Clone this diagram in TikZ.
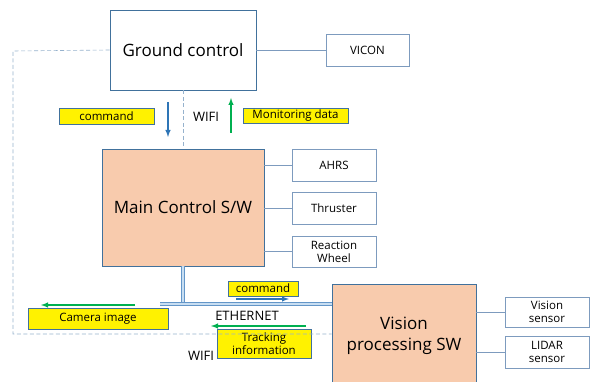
\documentclass[tikz,border=0pt]{standalone}
\usepackage{fontspec}
\setmainfont{Open Sans}
\usepackage{xcolor}
\usepackage{tikz}
\usetikzlibrary{shapes.geometric, arrows}
\definecolor{boxline}{RGB}{65,113,156}
\definecolor{thinline}{RGB}{125,155,190}
\definecolor{salmon}{RGB}{248,203,173}
\definecolor{cmdblue}{RGB}{46,117,182}
\definecolor{datagreen}{RGB}{0,176,80}
\definecolor{wifidash}{RGB}{150,178,205}
\definecolor{etherline}{RGB}{100,150,200}
\definecolor{etherfill}{RGB}{200,222,242}
\tikzstyle{station} = [rectangle, minimum width=146pt, minimum height=80pt, text centered, draw=boxline, line width=0.8pt, fill=white, font=\fontsize{17}{21}\selectfont]
\tikzstyle{software} = [rectangle, text centered, align=center, draw=boxline, line width=0.8pt, fill=salmon, font=\fontsize{17}{21}\selectfont]
\tikzstyle{device} = [rectangle, minimum width=84pt, minimum height=32pt, text centered, align=center, draw=thinline, line width=0.6pt, fill=white, font=\fontsize{11.5}{13}\selectfont]
\tikzstyle{flowtag} = [rectangle, text centered, align=center, draw=boxline, line width=0.8pt, fill=yellow, inner sep=0pt, font=\fontsize{11.5}{12.5}\selectfont]
\tikzstyle{medium} = [font=\fontsize{13}{15}\selectfont, inner sep=0pt]
\tikzstyle{sidelink} = [draw=thinline, line width=0.6pt]
\tikzstyle{wifilink} = [draw=wifidash, dash pattern=on 4pt off 2.5pt, line width=0.6pt]
\tikzstyle{etherlink} = [draw=etherline, double=etherfill, double distance=1.5pt, line width=1pt]
\tikzstyle{cmdflow} = [->, >=latex, draw=cmdblue, line width=1.4pt]
\tikzstyle{dataflow} = [->, >=latex, draw=datagreen, line width=1.4pt]

\begin{document}
\begin{tikzpicture}[x=1pt, y=-1pt]
	\useasboundingbox (0,0) rectangle (592,382);
	\clip (0,0) rectangle (592,382);

	% boxes
	\node (gc) [station] at (183,50) {Ground control};
	\node (vicon) [device, minimum width=83pt] at (367.5,50) {VICON};
	\node (main) [software, minimum width=162pt, minimum height=117pt] at (183,207.5) {Main Control S/W};
	\node (ahrs) [device] at (334,165) {AHRS};
	\node (thruster) [device] at (334,208) {Thruster};
	\node (wheel) [device, minimum height=31pt] at (334,251.5) {Reaction\\Wheel};
	\node (vp) [software, minimum width=144pt, minimum height=104pt] at (404,336) {Vision\\processing SW};
	\node (vsensor) [device, minimum height=30pt] at (547,312) {Vision\\sensor};
	\node (lidar) [device] at (547,352) {LIDAR\\sensor};

	% labels
	\node (cmdup) [flowtag, minimum width=95pt, minimum height=16pt] at (106.5,116) {command};
	\node (monitor) [flowtag, minimum width=105pt, minimum height=15pt] at (295.5,115.5) {Monitoring data};
	\node (cmdeth) [flowtag, minimum width=70pt, minimum height=15pt] at (263,288.5) {command};
	\node (camera) [flowtag, minimum width=140pt, minimum height=21pt] at (98,318.5) {Camera image};
	\node (tracking) [flowtag, minimum width=94pt, minimum height=29pt] at (264,343.5) {Tracking\\information};
	\node (wifitop) [medium] at (206,117) {WIFI};
	\node (ethernet) [medium] at (247,316) {ETHERNET};
	\node (wifibot) [medium] at (201,356) {WIFI};

	% wifi (dashed)
	\coordinate (wleft) at (13,51);
	\coordinate (wlow) at (13,334);
	\draw [wifilink] (gc.west) -- (wleft) -- (wlow) -- (wlow -| vp.west);
	\draw [wifilink] (gc.south) -- (main.north);

	% wired links
	\draw [sidelink] (gc.east) -- (vicon.west);
	\draw [sidelink] (main.east |- ahrs) -- (ahrs.west);
	\draw [sidelink] (main.east |- thruster) -- (thruster.west);
	\draw [sidelink] (main.east |- wheel) -- (wheel.west);
	\draw [sidelink] (vp.east |- vsensor) -- (vsensor.west);
	\draw [sidelink] (vp.east |- lidar) -- (lidar.west);

	% ethernet
	\coordinate (ebus) at (160,304);
	\draw [etherlink] (main.south) -- (main.south |- ebus);
	\draw [etherlink] (ebus) -- (ebus -| vp.west);

	% data flow arrows
	\coordinate (c1) at (168,102);
	\coordinate (c2) at (168,137);
	\coordinate (m1) at (231,133);
	\coordinate (m2) at (231,98);
	\coordinate (e1) at (236,299);
	\coordinate (e2) at (289,299);
	\coordinate (i1) at (135,305);
	\coordinate (i2) at (41,305);
	\coordinate (t1) at (306,326);
	\coordinate (t2) at (211,326);
	\draw [cmdflow] (c1) -- (c2);
	\draw [dataflow] (m1) -- (m2);
	\draw [cmdflow] (e1) -- (e2);
	\draw [dataflow] (i1) -- (i2);
	\draw [dataflow] (t1) -- (t2);
\end{tikzpicture}
\end{document}
